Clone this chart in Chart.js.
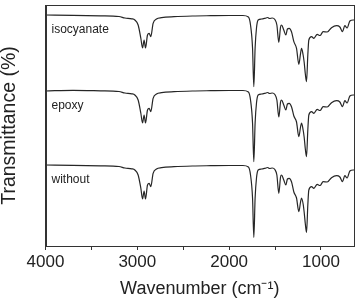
<!DOCTYPE html>
<html>
<head>
<meta charset="utf-8">
<script src="https://cdn.jsdelivr.net/npm/chart.js@4/dist/chart.umd.min.js"></script>
<style>
html,body{margin:0;padding:0;background:#fff;overflow:hidden;}
canvas{display:block;}
</style>
</head>
<body>
<canvas id="c" width="356" height="300"></canvas>
<script>
// Wavenumbers (cm^-1)
const wavenumbers = [4000,3700,3400,3200,3135,3060,3027,2991,2962,2943,2926,2911,2889,2871,2853,2828,2791,2736,2600,2400,2200,2000,1850,1790,1767,1745,1731,1717,1702,1684,1647,1610,1580,1560,1530,1502,1480,1459,1440,1429,1405,1382,1365,1346,1320,1295,1266,1241,1222,1211,1194,1183,1170,1157,1143,1132,1102,1077,1041,1010,976,932,885,830,794,765,740,715,685,649,640];
// Transmittance (offset, arbitrary units)
const isocyanate = [231,230.7,230.2,229.5,228,227.2,226,221,208,198,206,198,211,212.7,209.3,222.7,227,228.3,229.3,230,230.3,230.5,230.5,229,221,198,159.3,198,218,226,227,227.7,228.5,227.5,228,226.5,221,203.7,219,221,216,211,217,217.7,214,204.3,197.7,181.7,192.7,197.7,191,184,172,164.3,191,206,209.3,207.7,211.7,210.5,214.3,214,218.3,220.3,219,214.3,220.3,218,225,226,226];
const epoxy = [155,155.7,155.2,154.5,153,152.2,151,146,133,123,131,123,136,137.7,134.3,147.7,152,153.3,154.3,155,155.3,155.5,155.5,154,146,123,84.3,123,143,151,152,152.7,153.5,152.5,153,151.5,146,129,144,146,141,136,142,142.7,139,130,124,109.3,119,123,116,109,97,89.3,116,131,134.3,132.7,136.7,135.5,139.3,139,143.3,145.3,144,139.3,145.3,143,150,151,151];
const without = [81,80.7,80.2,79.5,78,77.2,76,71,58,47,55,47,61,62.7,59.3,72.7,77,78.3,79.3,80,80.3,80.5,80.5,79,71,48,8.7,48,68,76,77,77.7,78.5,77.5,78,76.5,71,52.7,69,71,66,61,67,67.7,64,54,48,34.3,44,48,42,34,22,13.7,41,56,59.3,57.7,61.7,60.5,64.3,64,68.3,70.3,69,64.3,70.3,68,75,76,76];
const seriesNames = ["isocyanate","epoxy","without"];
const xTickLabels = [4000,3000,2000,1000];
const xTickMarks = [4000,3500,3000,2500,2000,1500,1000];

const FONT = "'Liberation Sans', Arial, sans-serif";
const INK = '#222';

const toPts = arr => arr.map((v,i)=>({x:wavenumbers[i], y:v}));
const allSeries = [isocyanate, epoxy, without];

const framePlugin = {
  id:'frame',
  afterDraw(chart){
    const {ctx, chartArea:a, scales} = chart;
    ctx.save();
    ctx.strokeStyle = '#333';
    ctx.lineWidth = 1;
    ctx.strokeRect(Math.round(a.left)+0.5, Math.round(a.top)+0.5, Math.round(a.right-a.left)-1, Math.round(a.bottom-a.top));
    ctx.fillStyle = INK;
    ctx.font = "12px " + FONT;
    ctx.textBaseline = 'alphabetic';
    ctx.textAlign = 'left';
    chart.data.datasets.forEach((ds,i)=>{
      const y = scales.y.getPixelForValue(ds.data[0].y) + 18;
      ctx.fillText(ds.label, a.left + 6, y);
    });
    ctx.restore();
  }
};

new Chart(document.getElementById('c'), {
  type:'line',
  data:{
    datasets: allSeries.map((s,i)=>({
      label: seriesNames[i],
      data: toPts(s),
      borderColor:'#262626',
      borderWidth:1.2,
      pointRadius:0,
      fill:false,
      cubicInterpolationMode:'monotone'
    }))
  },
  options:{
    responsive:false,
    animation:false,
    devicePixelRatio:1,
    layout:{padding:{left:0,right:2,top:5,bottom:0}},
    plugins:{legend:{display:false}, tooltip:{enabled:false}},
    scales:{
      x:{
        type:'linear',
        reverse:true,
        min:640,
        max:4000,
        afterFit(s){ s.height = 54; },
        afterBuildTicks(s){ s.ticks = xTickMarks.map(v=>({value:v})); },
        border:{display:true,color:'#333',width:1},
        grid:{display:true,drawOnChartArea:false,drawTicks:true,tickLength:4,color:'#333'},
        ticks:{
          autoSkip:false,
          maxRotation:0,
          minRotation:0,
          padding:2,
          color:INK,
          font:{family:FONT,size:17},
          callback:(v)=> (xTickLabels.includes(v) ? String(v) : '')
        },
        title:{display:true,text:'Wavenumber (cm⁻¹)',color:INK,font:{family:FONT,size:18,lineHeight:1.2},padding:{top:0,bottom:0}}
      },
      y:{
        type:'linear',
        min:0,
        max:241,
        afterFit(s){ s.width = 45.5; },
        border:{display:true,color:'#333',width:1},
        grid:{display:true,drawOnChartArea:false,drawTicks:false},
        ticks:{display:false},
        title:{display:true,text:'Transmittance (%)',color:INK,font:{family:FONT,size:19.5,lineHeight:1},padding:{top:0,bottom:0}}
      }
    }
  },
  plugins:[framePlugin]
});
</script>
</body>
</html>
